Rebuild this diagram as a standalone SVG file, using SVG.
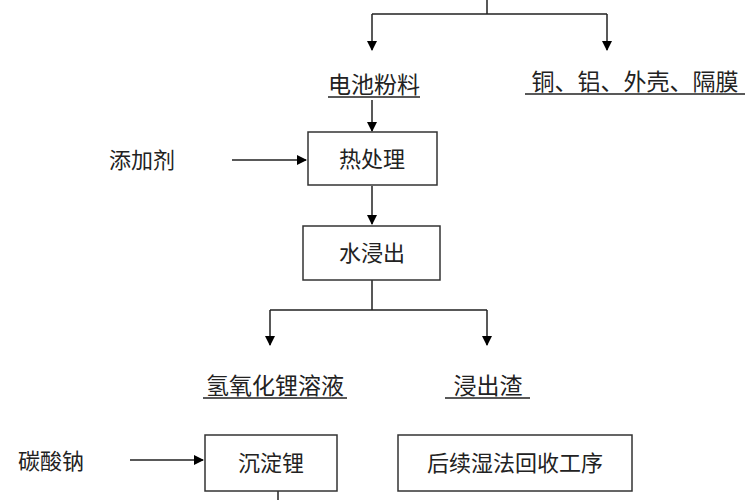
<svg xmlns="http://www.w3.org/2000/svg" width="750" height="500" viewBox="0 0 750 500">
<defs><marker id="a" markerWidth="10" markerHeight="10" refX="9" refY="5" orient="auto" markerUnits="userSpaceOnUse"><path d="M0,0L10,5L0,10z" fill="#000"/></marker></defs>
<style>
text{font-family:"Noto Sans CJK SC",sans-serif;font-size:22px;fill:#222}
.w{font-size:23px}
.b{fill:#fff;stroke:#333;stroke-width:1.5}
.l{stroke:#222;stroke-width:1.5;fill:none}
.u{stroke:#222;stroke-width:1.5}
</style>
<rect width="750" height="500" fill="#fff"/>
<g id="connectors">
<path class="l" d="M487,0V14M372,14H607"/>
<path class="l" d="M372,14V50" marker-end="url(#a)"/>
<path class="l" d="M607,14V50" marker-end="url(#a)"/>
<path class="l" d="M372,100V131" marker-end="url(#a)"/>
<path class="l" d="M232,160H306" marker-end="url(#a)"/>
<path class="l" d="M372,186V224" marker-end="url(#a)"/>
<path class="l" d="M372,280V310M270,310H487"/>
<path class="l" d="M270,310V345" marker-end="url(#a)"/>
<path class="l" d="M487,310V345" marker-end="url(#a)"/>
<path class="l" d="M130,460H203" marker-end="url(#a)"/>
<path class="l" d="M278,490V500"/>
</g>
<g id="n1"><text class="w" x="374" y="93" text-anchor="middle">电池粉料</text><line class="u" x1="328" y1="97" x2="420" y2="97"/></g>
<g id="n2"><text class="w" x="635" y="90" text-anchor="middle">铜、铝、外壳、隔膜</text><line class="u" x1="525" y1="94" x2="745" y2="94"/></g>
<g id="n3"><text x="142" y="168" text-anchor="middle">添加剂</text></g>
<g id="n4"><rect class="b" x="308" y="132" width="129" height="53"/><text x="372" y="167" text-anchor="middle">热处理</text></g>
<g id="n5"><rect class="b" x="303" y="226" width="137" height="54"/><text x="372" y="261" text-anchor="middle">水浸出</text></g>
<g id="n6"><text class="w" x="275" y="394" text-anchor="middle">氢氧化锂溶液</text><line class="u" x1="203" y1="398" x2="347" y2="398"/></g>
<g id="n7"><text class="w" x="488" y="394" text-anchor="middle">浸出渣</text><line class="u" x1="445" y1="398" x2="530" y2="398"/></g>
<g id="n8"><text x="51" y="469" text-anchor="middle">碳酸钠</text></g>
<g id="n9"><rect class="b" x="205" y="435" width="132" height="56"/><text x="271" y="471" text-anchor="middle">沉淀锂</text></g>
<g id="n10"><rect class="b" x="398" y="435" width="234" height="56"/><text x="515" y="471" text-anchor="middle">后续湿法回收工序</text></g>
</svg>
